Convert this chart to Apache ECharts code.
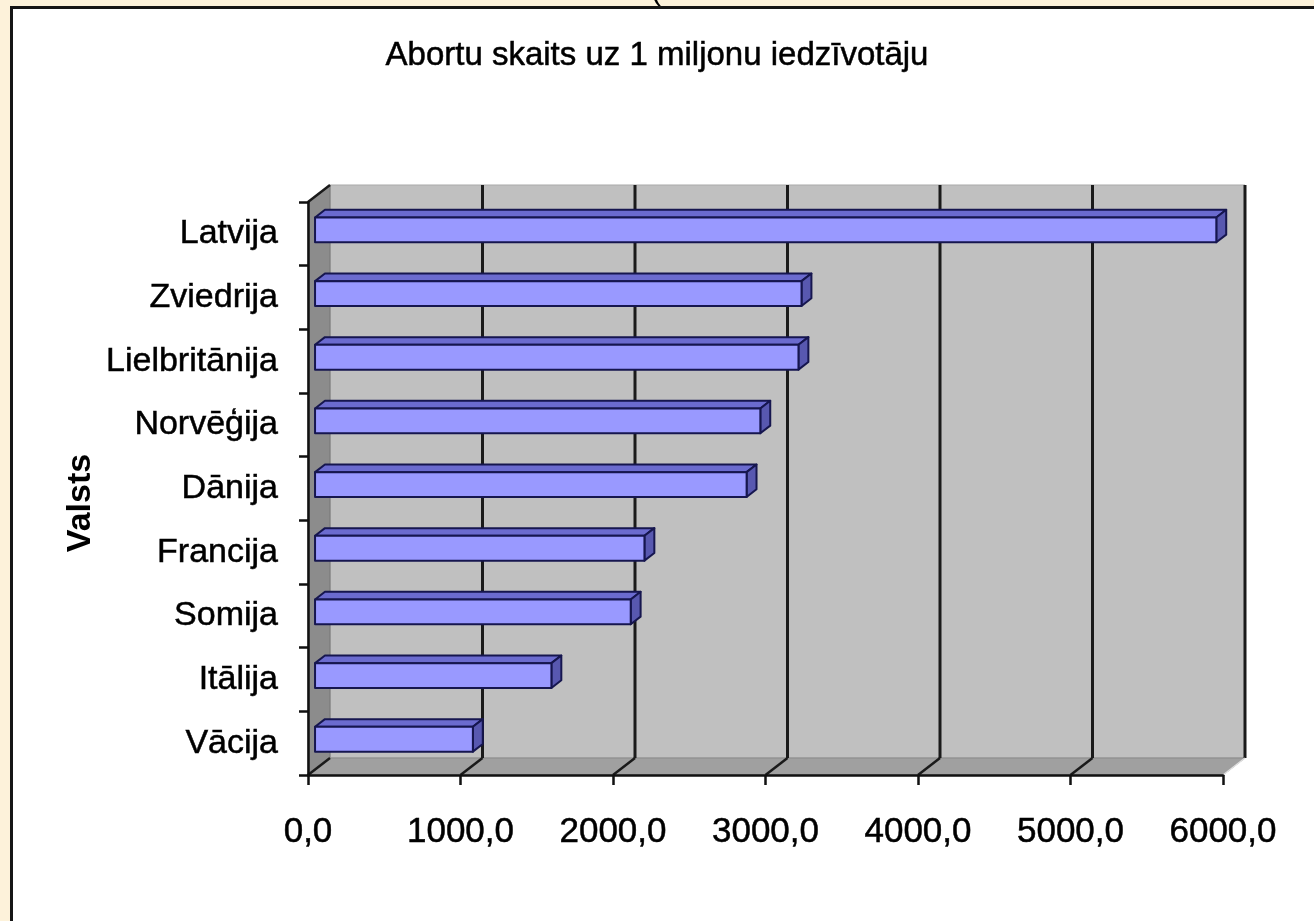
<!DOCTYPE html>
<html>
<head>
<meta charset="utf-8">
<script src="https://cdn.jsdelivr.net/npm/echarts@6/dist/echarts.min.js"></script>
<style>
  html, body { margin: 0; padding: 0; background: #fdf2da; }
  #frame { position: absolute; left: 10px; top: 6px; width: 1310px; height: 912px; background: #ffffff;
           border-left: 3px solid #151515; border-top: 3px solid #151515; }
  #chart { position: absolute; left: 0; top: 0; width: 1314px; height: 921px; }
</style>
</head>
<body>
<div id="frame"></div>
<div id="chart"></div>
<script>
// ---- data ----
const categories = ['Latvija', 'Zviedrija', 'Lielbritānija', 'Norvēģija', 'Dānija', 'Francija', 'Somija', 'Itālija', 'Vācija'];
const values = [5910, 3190, 3170, 2920, 2830, 2160, 2070, 1550, 1035];
const xTicks = [0, 1000, 2000, 3000, 4000, 5000, 6000];
const xTickLabels = ['0,0', '1000,0', '2000,0', '3000,0', '4000,0', '5000,0', '6000,0'];
const titleText = 'Abortu skaits uz 1 miljonu iedzīvotāju';
const yName = 'Valsts';

// ---- 3D look (pixel offsets of the full depth) ----
const DX = 22, DY = -17;
const BAR_D1 = 0.32, BAR_D2 = 0.77;
const FONT = '"Liberation Sans", Arial, sans-serif';
const TXT = { color: '#000', textBorderColor: '#000', textBorderWidth: 0.5 };

function renderWalls(params, api) {
  const bandH = api.size([0, 1])[1];
  const top = api.coord([0, 0])[1] - bandH / 2;
  const bottom = api.coord([0, categories.length - 1])[1] + bandH / 2;
  const x0 = api.coord([xTicks[0], 0])[0];
  const xN = api.coord([xTicks[xTicks.length - 1], 0])[0];
  const ch = [];
  ch.push({ type: 'polygon', shape: { points: [[x0 + DX, top + DY], [xN + DX, top + DY], [xN + DX, bottom + DY], [x0 + DX, bottom + DY]] },
            style: { fill: '#c0c0c0', stroke: '#a9a9a9', lineWidth: 1 } });
  ch.push({ type: 'polygon', shape: { points: [[x0, top], [x0 + DX, top + DY], [x0 + DX, bottom + DY], [x0, bottom]] },
            style: { fill: '#8c8c8c', stroke: '#777', lineWidth: 1 } });
  ch.push({ type: 'polygon', shape: { points: [[x0, bottom], [x0 + DX, bottom + DY], [xN + DX, bottom + DY], [xN, bottom]] },
            style: { fill: '#a0a0a0', stroke: '#8a8a8a', lineWidth: 1 } });
  xTicks.forEach((t, i) => {
    const x = api.coord([t, 0])[0];
    if (i > 0) {
      ch.push({ type: 'line', shape: { x1: x + DX, y1: top + DY, x2: x + DX, y2: bottom + DY },
                style: { stroke: '#1a1a1a', lineWidth: 3 } });
    }
    if (i < xTicks.length - 1) {
      ch.push({ type: 'line', shape: { x1: x, y1: bottom, x2: x + DX, y2: bottom + DY },
                style: { stroke: '#1a1a1a', lineWidth: 2.5 } });
    }
  });
  ch.push({ type: 'line', shape: { x1: xN, y1: bottom, x2: xN + DX, y2: bottom + DY },
            style: { stroke: '#e0e0e0', lineWidth: 1.5 } });
  ch.push({ type: 'line', shape: { x1: x0, y1: top, x2: x0 + DX, y2: top + DY },
            style: { stroke: '#1a1a1a', lineWidth: 2.5 } });
  return { type: 'group', children: ch };
}

function renderBar(params, api) {
  const v = api.value(0), idx = api.value(1);
  const bandH = api.size([0, 1])[1];
  const h = bandH * 0.39;
  const s = api.coord([0, idx]);
  const e = api.coord([v, idx]);
  const ox = BAR_D1 * DX, oy = BAR_D1 * DY;
  const dx = (BAR_D2 - BAR_D1) * DX, dy = (BAR_D2 - BAR_D1) * DY;
  const xl = s[0] + ox, xr = e[0] + ox;
  const yt = s[1] + oy - h / 2 + 1.5, yb = yt + h;
  const stroke = { stroke: '#16164f', lineWidth: 2, lineJoin: 'round' };
  return {
    type: 'group',
    children: [
      { type: 'polygon', shape: { points: [[xl, yt], [xl + dx, yt + dy], [xr + dx, yt + dy], [xr, yt]] },
        style: Object.assign({ fill: '#6b6bcf' }, stroke) },
      { type: 'polygon', shape: { points: [[xr, yt], [xr + dx, yt + dy], [xr + dx, yb + dy], [xr, yb]] },
        style: Object.assign({ fill: '#5858b0' }, stroke) },
      { type: 'rect', shape: { x: xl, y: yt, width: xr - xl, height: h },
        style: Object.assign({ fill: '#9999ff' }, stroke) }
    ]
  };
}

const chart = echarts.init(document.getElementById('chart'), null, { renderer: 'canvas' });
chart.setOption({
  backgroundColor: 'transparent',
  animation: false,
  title: {
    text: titleText, left: 'center', top: 34,
    textStyle: Object.assign({ fontFamily: FONT, fontSize: 33, fontWeight: 'normal' }, TXT)
  },
  grid: { left: 308, right: 91, top: 202, bottom: 146, containLabel: false },
  xAxis: {
    type: 'value', min: 0, max: 6000, interval: 1000, z: 10,
    axisLine: { show: true, lineStyle: { color: '#111', width: 2.5 } },
    axisTick: { show: true, length: 10, lineStyle: { color: '#111', width: 2.5 } },
    splitLine: { show: false },
    axisLabel: Object.assign({
      margin: 40, fontFamily: FONT, fontSize: 35,
      formatter: (val) => xTickLabels[xTicks.indexOf(val)]
    }, TXT)
  },
  yAxis: {
    type: 'category', data: categories, inverse: true, z: 10,
    axisLine: { show: true, lineStyle: { color: '#111', width: 2.5 } },
    axisTick: { show: true, length: 9, lineStyle: { color: '#111', width: 2.5 } },
    splitLine: { show: false },
    axisLabel: Object.assign({ margin: 30, fontFamily: FONT, fontSize: 34 }, TXT)
  },
  graphic: [
    { type: 'text', x: 81, y: 503, rotation: Math.PI / 2,
      style: { text: yName, align: 'center', verticalAlign: 'middle', font: 'bold 34px ' + FONT, fill: '#000' } },
    { type: 'text', x: 651, y: -23, style: { text: '(', font: '30px ' + FONT, fill: '#000' } }
  ],
  series: [
    { type: 'custom', renderItem: renderWalls, data: [[0, 0]], z: 1, silent: true,
      encode: { x: 0, y: 1 } },
    { type: 'custom', renderItem: renderBar, z: 3,
      data: values.map((v, i) => [v, i]), encode: { x: 0, y: 1 } }
  ]
});
</script>
</body>
</html>
